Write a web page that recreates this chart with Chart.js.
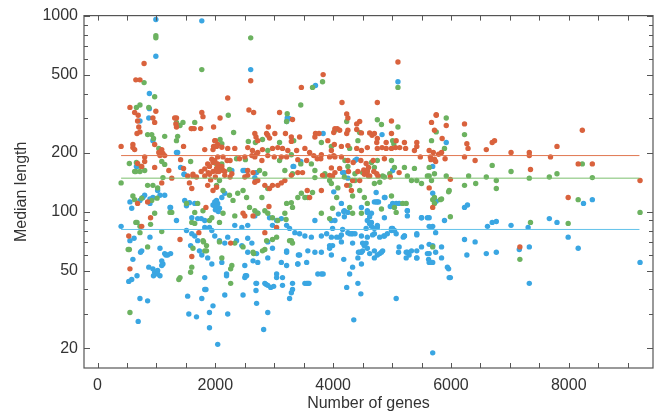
<!DOCTYPE html>
<html>
<head>
<meta charset="utf-8">
<script src="https://cdn.jsdelivr.net/npm/chart.js@4.4.1/dist/chart.umd.min.js"></script>
<style>
  body { margin: 0; background: #fff; }
  canvas { display: block; }
</style>
</head>
<body>
<canvas id="lengthChart" width="657" height="413"></canvas>
<script>
// values: [number of genes, median length]
const seriesNames = ['Orange', 'Green', 'Blue'];
const seriesColors = ['#d9623d', '#6cb260', '#3aa6e2'];
const lineColors = ['#e0764f', '#7cbf6e', '#62c2ea'];
const xTickValues = [0, 2000, 4000, 6000, 8000];
const yTickValues = [20, 50, 100, 200, 500, 1000];
const medianValues = [193, 148, 81];
const medianSpan = [400, 9200];

const orangePts = [
  [790,570],[650,470],[720,470],[550,340],[400,215],[690,310],[670,250],[600,220],
  [2210,380],[1770,320],[1790,305],[2080,300],[1970,270],[1340,300],[1340,270],[1600,265],[1750,265],
  [2600,465],[2570,330],[2650,320],[2900,270],[3090,320],[3460,430],[3830,500],
  [5100,580],[4150,360],[4750,360],[5750,310],[5920,275],[6230,280],[6270,222],[6290,210],[8230,260],[7800,215],
  [6700,225],[6740,230],[6600,207],[7020,200],[7330,200],[7330,193],[7690,190],[6410,182],[6230,190],[8160,175],
  [8400,175],[7350,164],[5990,146],[9210,144],[7990,118],[5690,105],[7170,66],
  [530,75],[550,51],[750,84],[900,93],[1400,72],[1600,59],[1720,78],[1840,105],[2260,69],[2500,95],[2640,95],
  [2840,78],[2910,106],[3040,83],
  [630,320],[990,325],[940,300],[970,285],[680,290],[700,270],[720,255],[600,212],[630,207],[970,220],[1040,200],
  [1090,207],[1110,198],[1140,193],[1060,193],
  [1310,300],[1330,280],[1590,265],[1640,265],[1460,215],[1820,207],[1960,207],[1970,215],[2000,230],[2040,220],
  [800,190],[800,180],[750,170],[970,168],[1210,162],[1410,184],[1460,166],[1820,165],[1870,175],[1900,155],
  [1940,185],[1960,160],[2000,150],[2050,170],[1960,178],[2060,160],[1260,148],[1530,152],[1620,152],[680,176],
  [3310,295],[2670,250],[2690,240],[2720,230],[2870,250],[2890,245],[2920,237],[3010,250],[3190,250],[3290,240],
  [3290,228],[3430,240],[3700,250],[3690,240],[3760,250],[4010,253],[4070,265],[3910,230],[1990,230],[2020,215],
  [2110,213],[2210,210],[2330,210],[2550,212],[2630,205],[2720,200],[2800,207],[2970,210],[3060,212],[3140,210],
  [3230,205],[3380,205],[3520,210],[3600,200],[3800,195],[3790,186],[3970,205],[4020,220],
  [2040,190],[2130,190],[2200,182],[2250,182],[1990,182],[2040,175],[2110,170],[2020,166],[2130,162],[2410,186],
  [2500,190],[2620,193],[2670,190],[2700,197],[2790,182],[2890,193],[3000,190],[3120,190],[3210,190],[3400,184],
  [3550,182],[3670,193],[3730,186],[3940,190],[4010,193],[2030,160],[2160,160],[2280,156],[2550,162],[2640,158],
  [3970,167],[3990,152],[3480,158],
  [4230,315],[4250,300],[4450,288],[4400,280],[4990,290],[4030,265],[4110,260],[4230,250],[4250,260],[4400,262],
  [4480,252],[4620,252],[4660,245],[4700,250],[4750,236],[4740,225],[4900,225],[4990,250],[5070,230],[5210,225],
  [5420,225],[5420,215],[5670,285],[5750,312],[5720,260],[5850,236],[4140,215],[4250,217],[4400,210],[4480,205],
  [4580,212],[4750,210],[4830,212],[4900,210],[4990,210],[5060,212],[5130,212],[5230,210],[5380,205],[5630,205],
  [5650,190],[5700,200],[5720,185],[5740,180],[5790,196],[5840,200],[5900,186],[5660,184],
  [4030,190],[4140,190],[4250,182],[4340,178],[4470,182],[4560,176],[4600,168],[4680,182],[4870,186],[5480,190],
  [4030,158],[4110,166],[4260,160],[4520,163],[4560,157],[4600,152],[4690,160],[4760,152],[4970,150],[5120,158],
  [1620,155],[1680,150],[1760,160],[1820,152],[1900,170],[1920,145],[1880,158],
  [1090,140],[1560,140],[1600,131],[1870,136],[1960,128],[2020,133],[850,112],[680,110],
  [2160,153],[2250,150],[2500,150],[2550,153],[2670,141],[2720,144],[2840,136],[2920,131],[2970,136],[3060,136],
  [3120,140],[3180,144],[3290,153],[3400,158],[3560,128],[3600,118],[3800,128],[3820,153],[3940,153],[2470,98],
  [4420,160],[4530,155],[4580,160],[4330,144],[4230,136],[4310,128],[4450,144],[4620,152],[4740,156],[5630,132]
];

const greenPts = [
  [990,790],[990,770],[1770,530],[2600,770],[790,455],[970,385],[660,340],[720,350],[2220,310],[3450,350],
  [3220,316],[3650,430],[3820,460],[1340,285],[1400,275],[1450,285],[540,176],[400,140],[660,178],[1140,174],
  [5100,430],[5920,300],[5750,255],[6230,247],[6700,172],[7020,160],[7330,148],[7670,150],[7800,156],[8230,175],
  [8400,149],[8160,115],[6300,152],[6230,136],[6420,139],[6600,150],[6770,144],[6770,131],[5960,126],[5820,115],
  [5690,115],[4820,278],[4750,294],[5010,230],
  [9210,99],[7990,87],[7350,88],[7170,57],[5690,66],[5990,94],
  [550,30.5],[540,64],[650,88],[720,84],[850,66],[1090,79],[1380,45],[1580,49],[1600,52],[1800,70],[1850,63],
  [2070,70],[2260,51],[2260,43],[2650,61],[2840,64],[2970,72],[3260,71],[3200,91],
  [870,340],[850,247],[920,247],[1140,242],[1650,285],[1360,242],[1340,230],[950,236],[1040,210],[1090,180],
  [740,170],[800,162],[1110,149],[1580,180],[2040,162],[650,160],
  [3210,288],[2310,253],[2080,233],[2110,222],[2560,228],[2680,225],[2800,233],[3090,225],[3330,230],[3800,225],
  [3970,215],[2360,186],[2510,184],[2890,205],[3090,182],[3290,195],[3450,175],[3630,175],[2020,175],[2110,175],
  [2240,164],[2750,162],[2840,156],[3180,162],[3310,156],[3690,162],[3860,152],
  [4030,260],[4230,288],[4450,253],[5100,270],[5670,230],[4420,230],[4280,210],[5030,222],[5890,210],[4200,182],
  [4250,170],[4650,178],[4750,182],[4700,168],[4580,162],[4990,182],[5040,168],[5210,168],[5380,166],[5630,168],
  [4370,156],[4500,158],[4840,152],[5260,152],[5630,152],[5920,152],
  [630,160],[720,160],[850,136],[940,136],[1020,132],[600,120],[630,115],[750,117],[920,114],[1010,117],
  [1230,99],[1260,99],[970,98],[670,88],[900,86],[720,78],[520,64],[1400,46],[1510,110],[1650,99],[1700,110],
  [1790,101],[1900,90],[1940,93],[1790,71],[1850,67],[1820,63],[1600,88],[1650,87],[1620,65],
  [2020,136],[2070,144],[2130,128],[2240,121],[2300,114],[2380,124],[2470,128],[2530,118],[2580,105],[2670,101],
  [2720,98],[2790,118],[2890,131],[2890,98],[2970,93],[3060,90],[3180,98],[3210,110],[3290,111],[3310,105],
  [3400,118],[3460,124],[3520,118],[3570,118],[3650,125],[3800,98],[3940,92],[3990,104],[3690,149],[3860,156],
  [3940,144],[3970,139],[2330,69],[2280,53],[2110,58],[2470,66],[2640,62],[2800,63],[2870,71],[3040,74],
  [3290,71],[3310,69],[2070,88],[2330,95],[2840,101],[2130,98],
  [4060,118],[4080,132],[4190,150],[4280,136],[4370,144],[4330,120],[4450,128],[4530,118],[4580,110],[4700,139],
  [4790,141],[4870,150],[4960,156],[4990,120],[5070,99],[5180,110],[5240,110],[5330,144],[5420,144],[5500,139],
  [5600,152],[5670,144],[5720,156],[5720,118],[5720,110],[5840,116],[5970,128],[4280,105],[4330,98],[4480,98],
  [4820,103],[5040,105]
];

const bluePts = [
  [990,955],[1770,940],[990,620],[2600,530],[3700,440],[880,400],[880,335],[720,290],[3220,300],[3260,298],
  [1340,200],[660,170],[1470,155],[2500,162],[2690,158],[3320,170],[3830,250],
  [5100,460],[4830,247],[5920,225],[5690,170],[5690,124],[5750,113],[8250,110],[8400,115],[6230,105],[6280,108],
  [5010,110],[4970,106],[4730,112],[4770,112],[4880,118],[4010,126],[4400,185],[4190,158],
  [4180,100],[4090,97],[4190,94],[4480,105],[4580,99],[4620,94],[5260,101],[5260,95],[5500,93],[5600,93],
  [5630,84],[5690,84],[5740,78],[6620,84],[6700,88],[6770,89],[7020,85],[7310,83],[7670,92],[7800,88],[7990,74],
  [8160,65],[9210,55],[7330,66],[7160,64],[7330,43],[6770,62],[6600,61],[6270,60],[6230,72],[6410,70],[5960,51],
  [5990,46],[5690,19],[5630,68],[5690,67],[5600,61],[5620,57],[5690,55],[5630,55],[5740,62],[5840,58],[5420,63],
  [5420,58],[5260,62],[5240,58],[5290,60],[5110,62],[5420,76],[5210,75],[5190,74],[5070,77],[5010,82],[4990,80],
  [4860,75],[4790,74],[4750,83],[4700,77],[4650,84],[4670,76],[4560,82],[4620,87],[4580,90],[4870,93],[4530,67],
  [4560,69],[4580,65],[4620,61],[4700,58],[4790,61],[4820,62],[4430,62],[4480,62],[4500,63],[4480,54],[4330,52],
  [4280,48],[4230,41],[4420,43],[4470,38],[4350,28],[5070,36],[4180,57],[4330,69],[4330,77],[4310,77],[4250,78],
  [4160,81],[4140,76],[4060,74],[3990,82],[3970,74],[3990,67],[3970,60],
  [400,84],[530,44],[600,57],[670,47],[620,73],[690,27.5],[720,36],[730,62],[850,35],[870,52],[940,51],[970,49],
  [1020,50],[950,47],[1060,47],[1090,53],[1110,54],[1160,60],[1190,60],[1240,61],[1240,105],[1340,90],[1530,37],
  [1550,30],[1580,67],[1680,29],[1770,36],[1840,40],[1900,30.5],[1960,33],[1900,25.5],[2040,21],[2210,30],
  [2160,37.5],[2190,48],[2470,37.5],[2510,47],[2690,43],[2690,39.5],[2700,34],[2820,25],[2890,30.5],[2860,42.5],
  [2940,41],[2990,41.5],[3040,48],[3140,42],[3210,62],[3260,36],[3310,40],[3290,38.5],[3410,60],[3400,54],
  [3550,43],[3590,43],[3830,48],
  [550,112],[580,104],[720,114],[770,118],[800,121],[890,116],[940,118],[1020,128],[1060,121],[1140,121],[890,110],
  [1230,105],[1480,114],[1510,107],[1560,111],[1650,110],[1600,93],[1700,92],[1760,92],[1820,90],[1820,83],
  [1900,83],[1940,80],[1510,80],[1600,77],[1650,75],[1700,71],[1730,63],[1770,60],[1870,58],[1940,54],[1820,46],
  [550,71],[750,63],[890,74],[1060,65],[1140,61],[1090,56],[1020,48],[580,45],[1820,40],
  [2020,114],[2040,110],[1990,107],[2070,104],[2110,118],[2160,124],[1960,108],[2000,102],[2030,106],[2050,100],
  [1990,112],
  [2330,85],[2450,83],[2550,85],[2670,95],[2720,98],[2920,93],[2970,85],[3040,90],[3120,92],[3210,85],[3260,82],
  [3350,78],[3430,77],[3520,75],[3630,74],[3690,90],[3800,75],[3890,77],[3970,90],[3940,67],[3940,65],[1990,75],
  [2070,71],[2160,69],[2210,74],[2360,71],[2450,67],[2550,73],[2620,69],[2890,70],[2970,65],[3210,63],[3430,60],
  [3570,63],[3800,62],[2110,55],[2500,53],[2640,56],[2720,55],[2890,58],[3120,55],[3210,53],[3400,54],[3550,55],
  [3690,62],[3740,48],[3800,48],[2190,47],[2500,46],[2530,47],[2700,43],[2840,43],[2890,42],[3040,46],[3140,46],
  [3310,43],[3520,43],[3570,43],[2550,62],[2700,61],
  [4140,110],[4190,101],[4250,99],[4030,90],[4110,74],[4140,70],[4280,77],[4370,77],[4480,75],[4580,74],[4700,112],
  [4750,112],[4870,118],[4730,125],[4580,101],[4650,98],[4620,87],[4650,88],[4750,85],[4700,82],[4870,75],
  [4920,77],[4990,82],[5040,80],[5210,75],[5260,101],[5420,77],[5500,93],[5630,93],[5670,83],[5890,90],[5070,110],
  [5120,110],[5120,66],[5240,62],[5330,63],[5420,58],[5500,66],[5630,61],[5670,55],[5840,66],[4500,69],[4530,67],
  [4700,63],[4750,60],[4840,63],[4450,62],[4420,58],[5940,52],[5970,46],
  [870,300],[940,230],[1360,200],[670,170],[1470,155],[1410,168],[3230,300],[3210,288],[3450,180],[3330,170],
  [2470,162],[2700,158],[2670,149],[2280,162],[2070,166],[4370,182],[4160,158],[4250,148],[5010,162]
];

const allPts = [orangePts, greenPts, bluePts];

const textColor = '#333333';
const axisFont = { family: "'Liberation Sans', Arial, sans-serif", size: 16 };

// box round the plot with small inward ticks on all four sides
const frameTicks = {
  id: 'frameTicks',
  afterDraw(chart) {
    const { ctx, chartArea: a, scales } = chart;
    const xs = scales.x, ys = scales.y;
    ctx.save();
    ctx.strokeStyle = '#555555';
    ctx.lineWidth = 1.2;
    ctx.strokeRect(a.left, a.top, a.right - a.left, a.bottom - a.top);
    ctx.lineWidth = 1;
    ctx.beginPath();
    for (let v = 0; v <= 9000; v += 500) {
      const px = Math.round(xs.getPixelForValue(v)) + 0.5;
      ctx.moveTo(px, a.bottom); ctx.lineTo(px, a.bottom - 5);
      ctx.moveTo(px, a.top); ctx.lineTo(px, a.top + 5);
    }
    const minor = [20, 30, 40, 50, 60, 70, 80, 90, 100, 200, 300, 400, 500, 600, 700, 800, 900, 1000];
    minor.forEach(v => {
      const py = Math.round(ys.getPixelForValue(v)) + 0.5;
      const len = yTickValues.includes(v) ? 6 : 4;
      ctx.moveTo(a.left, py); ctx.lineTo(a.left + len, py);
      ctx.moveTo(a.right, py); ctx.lineTo(a.right - len, py);
    });
    ctx.stroke();
    ctx.restore();
  }
};

const datasets = [];
allPts.forEach((pts, i) => {
  datasets.push({
    type: 'line',
    label: seriesNames[i] + ' median',
    data: medianSpan.map(x => ({ x: x, y: medianValues[i] })),
    borderColor: lineColors[i],
    borderWidth: 1,
    pointRadius: 0,
    order: 0
  });
});
allPts.forEach((pts, i) => {
  datasets.push({
    type: 'scatter',
    label: seriesNames[i],
    data: pts.map(p => ({ x: p[0], y: p[1] })),
    backgroundColor: seriesColors[i],
    borderWidth: 0,
    pointRadius: 2.7,
    order: i + 1
  });
});

new Chart(document.getElementById('lengthChart'), {
  type: 'scatter',
  data: { datasets: datasets },
  options: {
    responsive: false,
    animation: false,
    devicePixelRatio: 1,
    layout: { padding: { top: 15, right: 3, left: 0, bottom: 0 } },
    plugins: {
      legend: { display: false },
      tooltip: { enabled: false }
    },
    scales: {
      x: {
        type: 'linear',
        min: -230,
        max: 9430,
        afterBuildTicks: scale => { scale.ticks = xTickValues.map(v => ({ value: v })); },
        afterFit: scale => { scale.height = 45; },
        grid: { display: false, drawTicks: false },
        border: { display: false },
        ticks: { color: textColor, font: axisFont, padding: 8, maxRotation: 0, callback: v => String(v) },
        title: {
          display: true,
          text: 'Number of genes',
          color: textColor,
          font: axisFont,
          padding: { top: 0, bottom: 0 }
        }
      },
      y: {
        type: 'logarithmic',
        min: 15.9,
        max: 1000,
        afterBuildTicks: scale => { scale.ticks = yTickValues.map(v => ({ value: v })); },
        afterFit: scale => { scale.width = 84; },
        grid: { display: false, drawTicks: false },
        border: { display: false },
        ticks: { color: textColor, font: axisFont, padding: 6, callback: v => String(v) },
        title: {
          display: true,
          text: 'Median length',
          color: textColor,
          font: axisFont,
          padding: { top: 12, bottom: 0 }
        }
      }
    }
  },
  plugins: [frameTicks]
});
</script>
</body>
</html>
